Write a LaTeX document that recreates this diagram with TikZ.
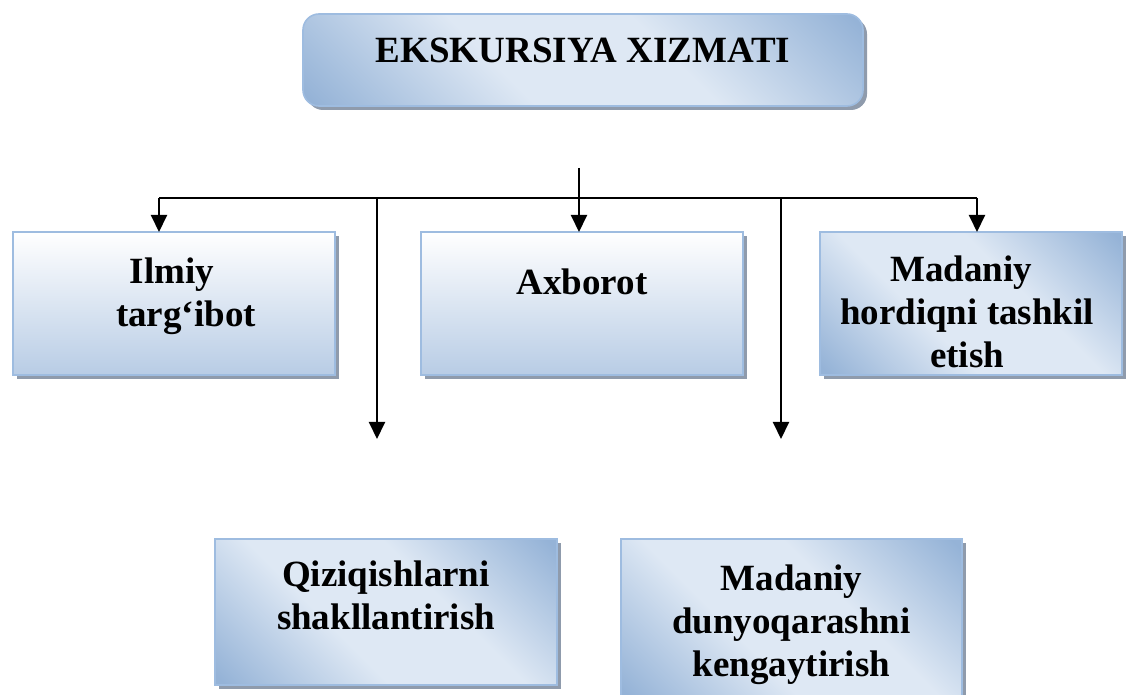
\documentclass[tikz,border=0pt]{standalone}
\usepackage{fontspec}
\setmainfont{Liberation Serif}
\usetikzlibrary{arrows.meta,shadows}

\definecolor{bluedark}{RGB}{149,179,215}
\definecolor{bluelight}{RGB}{222,232,244}
\definecolor{bluesoft}{RGB}{184,204,229}
\definecolor{boxline}{RGB}{158,188,224}
\definecolor{shadowgray}{RGB}{143,155,172}

% light band across the middle, darker towards two corners
\pgfdeclareverticalshading{diagblue}{100bp}{color(0bp)=(bluedark); color(16bp)=(bluedark);
  color(40bp)=(bluelight); color(60bp)=(bluelight); color(84bp)=(bluedark); color(100bp)=(bluedark)}

\begin{document}
\begin{tikzpicture}[x=0.5pt, y=-0.5pt,
  box/.style={draw=boxline, line width=0.8pt, inner sep=0pt, outer sep=0pt,
    general shadow={fill=shadowgray, shadow xshift=2pt, shadow yshift=-2pt}},
  diagbox/.style={box, shading=diagblue, shading angle=-45},
  plainbox/.style={box, top color=white, bottom color=bluesoft},
  lbl/.style={font=\bfseries\fontsize{18.5}{21.5}\selectfont, align=center,
    inner sep=0pt, anchor=north},
  arr/.style={line width=1pt, -{Triangle[length=8.5pt, width=8pt]}},
  line/.style={line width=1pt}]
  \useasboundingbox (0,0) rectangle (1126,695);

  % Boxes
  \node[diagbox, rounded corners=8pt, minimum width=280pt, minimum height=46pt]
    (title) at (583,60) {};
  \node[plainbox, minimum width=161pt, minimum height=71.5pt] (ilmiy) at (174,303.5) {};
  \node[plainbox, minimum width=161pt, minimum height=71.5pt] (axborot) at (582,303.5) {};
  \node[diagbox, minimum width=151pt, minimum height=71.5pt] (hordiq) at (971,303.5) {};
  \node[diagbox, minimum width=171pt, minimum height=73pt] (qiziq) at (386,612) {};
  \node[diagbox, minimum width=170.5pt, minimum height=80pt] (dunyo) at (791.5,619) {};

  % Box texts
  \node[lbl] (title-t) at ([yshift=-12pt]title.north) {EKSKURSIYA XIZMATI};
  \node[lbl] (ilmiy-t) at ([xshift=6pt, yshift=-12.5pt]ilmiy.north) {Ilmiy\hspace*{14pt}\\targ‘ibot};
  \node[lbl] (axborot-t) at ([yshift=-18pt]axborot.north) {Axborot};
  \node[lbl] (hordiq-t) at ([xshift=-2pt, yshift=-11.5pt]hordiq.north) {Madaniy\hspace*{6pt}\\hordiqni tashkil\\etish};
  \node[lbl] (qiziq-t) at ([yshift=-10.5pt]qiziq.north) {Qiziqishlarni\\shakllantirish};
  \node[lbl] (dunyo-t) at ([yshift=-12.5pt]dunyo.north) {Madaniy\\dunyoqarashni\\kengaytirish};

  % Branch points
  \coordinate (stem) at (579,168);
  \coordinate (hub) at (579,198);
  \coordinate (left) at (159,198);
  \coordinate (right) at (977,198);
  \coordinate (split1) at (377,198);
  \coordinate (split2) at (781,198);
  \coordinate (end1) at (377,439);
  \coordinate (end2) at (781,439);

  % Connectors
  \draw[line] (left) -- (right);
  \draw[arr] (stem) -- (hub |- axborot.north);
  \draw[arr] (left) -- (left |- ilmiy.north);
  \draw[arr] (right) -- (right |- hordiq.north);
  \draw[arr] (split1) -- (end1);
  \draw[arr] (split2) -- (end2);
\end{tikzpicture}
\end{document}
